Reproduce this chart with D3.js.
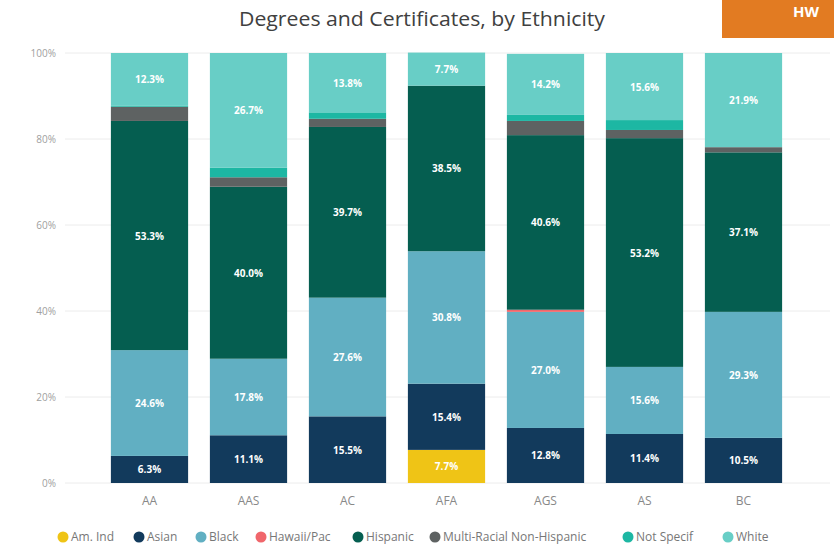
<!DOCTYPE html>
<html><head><meta charset="utf-8">
<script src="https://cdn.jsdelivr.net/npm/d3@7"></script>
<style>body{margin:0;background:#fff;}svg{display:block;font-family:"Open Sans",sans-serif;}</style>
</head><body><svg id="c" width="834" height="547"></svg>
<script>
const categories = ["AA","AAS","AC","AFA","AGS","AS","BC"];
const seriesNames = ["Am. Ind","Asian","Black","Hawaii/Pac","Hispanic","Multi-Racial Non-Hispanic","Not Specif","White"];
const seriesColors = ["#EFC416","#123A5C","#61AFC2","#F0666B","#055E50","#5E6262","#1DB7A3","#68CEC6"];
const amInd    = [0,0,0,7.7,0,0,0];
const asian    = [6.3,11.1,15.5,15.4,12.8,11.4,10.5];
const black    = [24.6,17.8,27.6,30.8,27.0,15.6,29.3];
const hawaii   = [0,0,0,0,0.5,0,0];
const hispanic = [53.3,40.0,39.7,38.5,40.6,53.2,37.1];
const multi    = [3.3,2.2,1.9,0,3.3,1.9,1.2];
const notSpec  = [0.2,2.2,1.5,0,1.4,2.3,0];
const white    = [12.3,26.7,13.8,7.7,14.2,15.6,21.9];
const yTicks = [0,20,40,60,80,100];

const seriesVals = [amInd,asian,black,hawaii,hispanic,multi,notSpec,white];
const rows = categories.map((c,i)=>{const r={cat:c};seriesNames.forEach((s,j)=>r[s]=seriesVals[j][i]);return r;});
const stack = d3.stack().keys(seriesNames)(rows);

const svg = d3.select("#c");
const x = d3.scaleBand().domain(categories).range([100,793]).paddingInner(0.22).paddingOuter(0.11);
const y = d3.scaleLinear().domain([0,100]).range([483,53]);

// orange box
svg.append("rect").attr("x",722).attr("y",0).attr("width",112).attr("height",38).attr("fill","#E27B22");
svg.append("text").attr("x",793).attr("y",17).attr("fill","#fff").attr("font-size",15).attr("font-weight","bold").text("HW");

// title
svg.append("text").attr("x",422).attr("y",26).attr("text-anchor","middle").attr("font-size",20)
  .attr("textLength",366).attr("lengthAdjust","spacingAndGlyphs").attr("fill","#404040").text("Degrees and Certificates, by Ethnicity");

// grid
svg.append("g").selectAll("line").data(yTicks).join("line")
  .attr("x1",65).attr("x2",830).attr("y1",d=>y(d)).attr("y2",d=>y(d))
  .attr("stroke","#ececec").attr("stroke-width",1);
const yAxis = d3.axisLeft(y).tickValues(yTicks).tickFormat(d=>d+"%").tickSize(0).tickPadding(0);
const ya = svg.append("g").attr("transform","translate(56,0)").call(yAxis);
ya.select(".domain").remove();
ya.selectAll("text").attr("fill","#a0a0a0").attr("font-size",10).attr("font-family","Open Sans");

// bars
const g = svg.append("g");
stack.forEach((layer,k)=>{
  g.append("g").attr("fill",seriesColors[k]).selectAll("rect").data(layer).join("rect")
   .attr("x",d=>x(d.data.cat)).attr("width",x.bandwidth())
   .attr("y",d=>y(d[1])).attr("height",d=>Math.max(0,y(d[0])-y(d[1])));
  g.append("g").selectAll("text").data(layer.filter(d=>d[1]-d[0]>=5)).join("text")
   .attr("x",d=>x(d.data.cat)+x.bandwidth()/2).attr("y",d=>y((d[0]+d[1])/2)+4)
   .attr("text-anchor","middle").attr("fill","#fff").attr("font-size",10).attr("font-weight","bold")
   .text(d=>(d[1]-d[0]).toFixed(1)+"%");
});

// x axis
const xa = svg.append("g").attr("transform","translate(0,490)").call(d3.axisBottom(x).tickSize(0).tickPadding(6));
xa.select(".domain").remove();
xa.selectAll("text").attr("fill","#888").attr("font-size",12).attr("font-family","Open Sans");

// legend
const legX = [63,139,201,261,358,435,628,728];
const lg = svg.append("g");
seriesNames.forEach((s,i)=>{
  lg.append("circle").attr("cx",legX[i]).attr("cy",537).attr("r",5.5).attr("fill",seriesColors[i]);
  lg.append("text").attr("x",legX[i]+8).attr("y",541).attr("font-size",12).attr("fill","#777").text(s);
});
</script></body></html>
